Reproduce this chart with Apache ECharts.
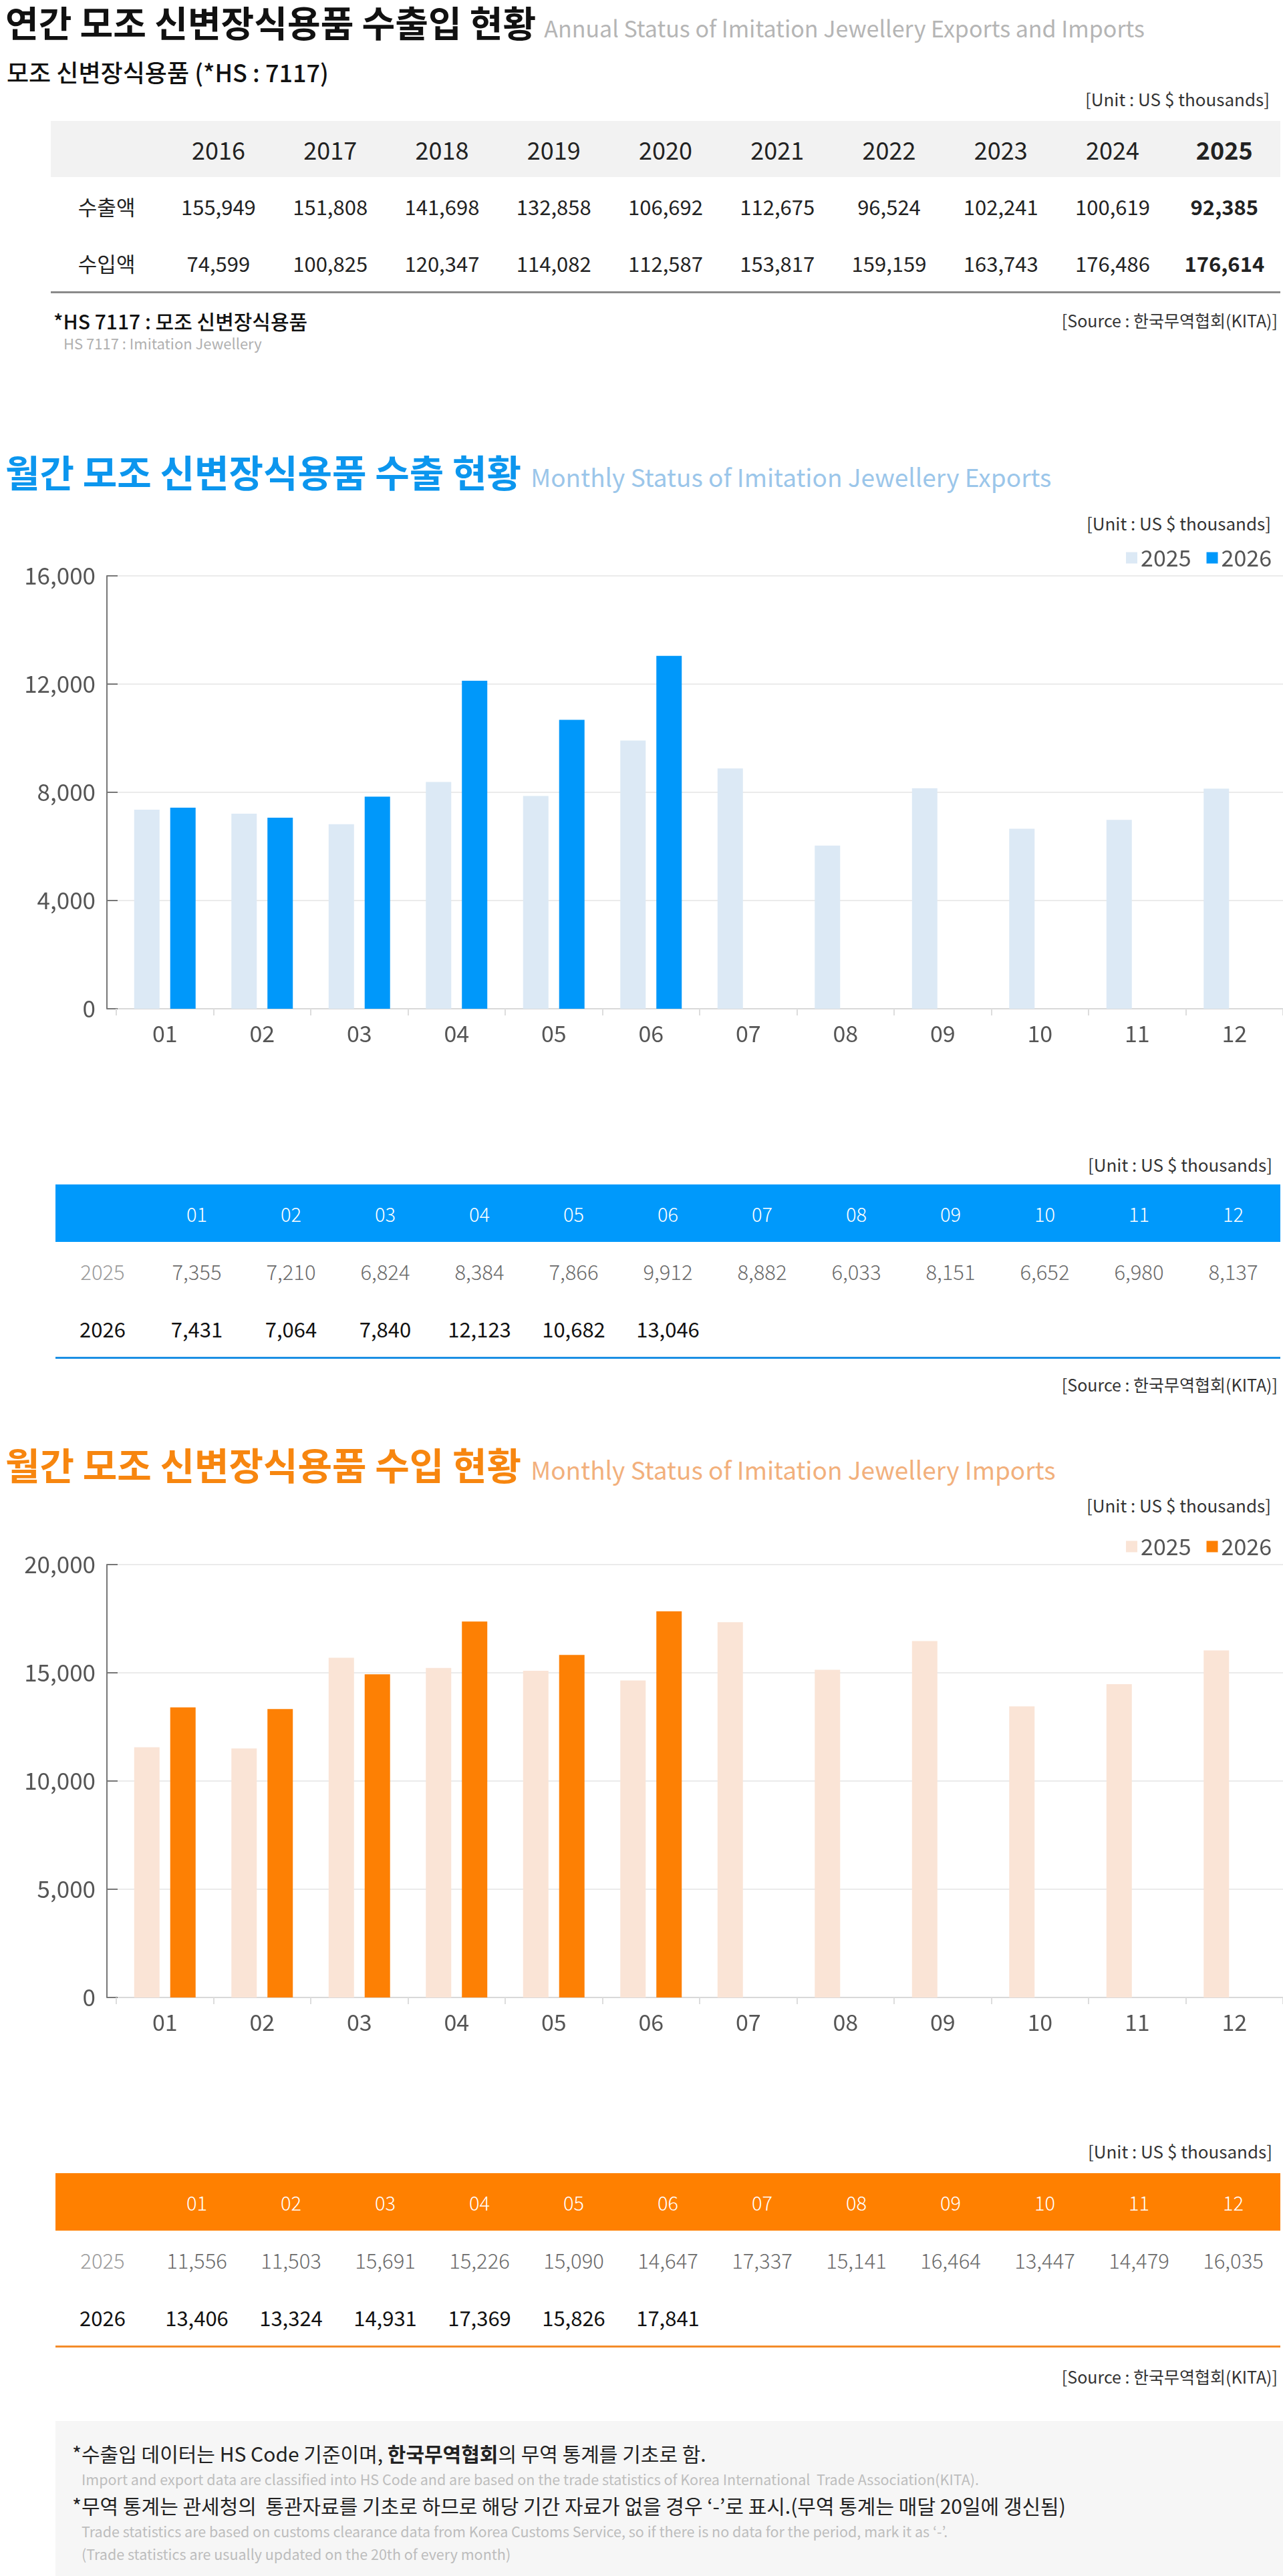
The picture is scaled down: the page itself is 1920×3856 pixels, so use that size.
<!DOCTYPE html>
<html><head><meta charset="utf-8">
<script src="https://cdn.jsdelivr.net/npm/echarts@6/dist/echarts.min.js"></script>
<style>
html,body{margin:0;padding:0;background:#fff;}
body{width:1920px;height:3856px;position:relative;overflow:hidden;font-family:"Noto Sans CJK KR","Noto Sans",sans-serif;}
.t{position:absolute;white-space:nowrap;line-height:1;}
.r{text-align:right;}
table{position:absolute;border-collapse:collapse;table-layout:fixed;}
td{text-align:center;vertical-align:middle;padding:0;white-space:nowrap;line-height:1;}
.chart{position:absolute;left:0;width:1920px;height:860px;}
</style></head>
<body>
<!-- Annual section -->
<div class="t" style="left:8px;top:6px;display:flex;align-items:baseline;">
  <span style="font-size:54px;font-weight:700;color:#111;">연간 모조 신변장식용품 수출입 현황</span>
  <span style="font-size:34px;color:#b5b5b5;margin-left:12px;">Annual Status of Imitation Jewellery Exports and Imports</span>
</div>
<div class="t" style="left:10px;top:89px;font-size:36px;font-weight:500;color:#111;">모조 신변장식용품 (*HS : 7117)</div>
<div class="t r" style="right:20px;top:135px;font-size:26px;color:#333;">[Unit : US $ thousands]</div>
<table id="annual" style="left:76px;top:181px;width:1840px;"></table>
<div class="t" style="left:80px;top:465px;font-size:30px;font-weight:500;color:#111;">*HS 7117 : 모조 신변장식용품</div>
<div class="t" style="left:95px;top:502px;font-size:22px;color:#b0b0b0;">HS 7117 : Imitation Jewellery</div>
<div class="t r" style="right:8px;top:467px;font-size:25px;color:#333;">[Source : 한국무역협회(KITA)]</div>

<!-- Export section -->
<div class="t" style="left:8px;top:677px;display:flex;align-items:baseline;">
  <span style="font-size:56px;font-weight:700;color:#0c96ee;">월간 모조 신변장식용품 수출 현황</span>
  <span style="font-size:37px;color:#9bc6ea;margin-left:14px;">Monthly Status of Imitation Jewellery Exports</span>
</div>
<div class="t r" style="right:18px;top:770px;font-size:26px;color:#333;">[Unit : US $ thousands]</div>
<div id="c1" class="chart" style="top:740px;"></div>
<div class="t r" style="right:16px;top:1730px;font-size:26px;color:#333;">[Unit : US $ thousands]</div>
<table id="exp" style="left:83px;top:1773px;width:1833px;"></table>
<div class="t r" style="right:8px;top:2060px;font-size:25px;color:#333;">[Source : 한국무역협회(KITA)]</div>

<!-- Import section -->
<div class="t" style="left:8px;top:2163px;display:flex;align-items:baseline;">
  <span style="font-size:56px;font-weight:700;color:#f7860f;">월간 모조 신변장식용품 수입 현황</span>
  <span style="font-size:37px;color:#f2b07c;margin-left:14px;">Monthly Status of Imitation Jewellery Imports</span>
</div>
<div class="t r" style="right:18px;top:2240px;font-size:26px;color:#333;">[Unit : US $ thousands]</div>
<div id="c2" class="chart" style="top:2220px;"></div>
<div class="t r" style="right:16px;top:3207px;font-size:26px;color:#333;">[Unit : US $ thousands]</div>
<table id="imp" style="left:83px;top:3253px;width:1833px;"></table>
<div class="t r" style="right:8px;top:3545px;font-size:25px;color:#333;">[Source : 한국무역협회(KITA)]</div>

<!-- Notes -->
<div style="position:absolute;left:83px;top:3624px;width:1837px;height:232px;background:#f6f6f6;"></div>
<div class="t" style="left:108px;top:3657px;font-size:30px;color:#222;">*수출입 데이터는 HS Code 기준이며, <b>한국무역협회</b>의 무역 통계를 기초로 함.</div>
<div class="t" style="left:122px;top:3700px;font-size:21.5px;color:#bdbdbd;">Import and export data are classified into HS Code and are based on the trade statistics of Korea International&nbsp; Trade Association(KITA).</div>
<div class="t" style="left:108px;top:3735px;font-size:30px;color:#222;">*무역 통계는 관세청의&nbsp; 통관자료를 기초로 하므로 해당 기간 자료가 없을 경우 ‘-’로 표시.(무역 통계는 매달 20일에 갱신됨)</div>
<div class="t" style="left:122px;top:3778px;font-size:21.5px;color:#bdbdbd;">Trade statistics are based on customs clearance data from Korea Customs Service, so if there is no data for the period, mark it as ‘-’.</div>
<div class="t" style="left:122px;top:3812px;font-size:21.5px;color:#bdbdbd;">(Trade statistics are usually updated on the 20th of every month)</div>

<script>
// ---- Data ----
const years = ['2016','2017','2018','2019','2020','2021','2022','2023','2024','2025'];
const annualExports = [155949,151808,141698,132858,106692,112675,96524,102241,100619,92385];
const annualImports = [74599,100825,120347,114082,112587,153817,159159,163743,176486,176614];

const months = ['01','02','03','04','05','06','07','08','09','10','11','12'];
const export2025 = [7355,7210,6824,8384,7866,9912,8882,6033,8151,6652,6980,8137];
const export2026 = [7431,7064,7840,12123,10682,13046];
const import2025 = [11556,11503,15691,15226,15090,14647,17337,15141,16464,13447,14479,16035];
const import2026 = [13406,13324,14931,17369,15826,17841];

const exportTicks = {min:0, max:16000, interval:4000};
const importTicks = {min:0, max:20000, interval:5000};

const fmt = v => v.toLocaleString('en-US');
const FONT = '"Noto Sans CJK KR","Noto Sans",sans-serif';

function cols(n, w){
  let s = '<colgroup>';
  for (let i=0;i<n;i++) s += '<col style="width:'+w.toFixed(2)+'px">';
  return s + '</colgroup>';
}

// ---- Annual table ----
(function(){
  const t = document.getElementById('annual');
  let h = cols(11, 1840/11);
  h += '<tr style="height:84px;background:#f2f2f2;"><td></td>' +
    years.map((y,i)=>'<td style="font-size:36px;color:#222;font-weight:'+(i===years.length-1?600:400)+'">'+y+'</td>').join('') + '</tr>';
  const row = (label, arr, hgt) => '<tr style="height:'+hgt+'px;"><td style="font-size:31px;color:#222;">'+label+'</td>' +
    arr.map((v,i)=>'<td style="font-size:31px;color:#222;font-weight:'+(i===arr.length-1?600:400)+'">'+fmt(v)+'</td>').join('') + '</tr>';
  h += row('수출액', annualExports, 87);
  h += row('수입액', annualImports, 85);
  t.innerHTML = h;
  t.style.borderBottom = '3px solid #8a8a8a';
})();

// ---- Monthly tables ----
function monthTable(id, head, a, b, bg, line){
  const t = document.getElementById(id);
  let h = cols(13, 1833/13);
  h += '<tr style="height:86px;background:'+bg+';"><td></td>' +
    head.map(m=>'<td style="font-size:29px;color:#fff;font-weight:300;">'+m+'</td>').join('') + '</tr>';
  h += '<tr style="height:87px;"><td style="font-size:31px;color:#9a9a9a;font-weight:300;">2025</td>' +
    head.map((m,i)=>'<td style="font-size:31px;color:#6a6a6a;font-weight:300;">'+(a[i]!=null?fmt(a[i]):'')+'</td>').join('') + '</tr>';
  h += '<tr style="height:86px;"><td style="font-size:31px;color:#111;">2026</td>' +
    head.map((m,i)=>'<td style="font-size:31px;color:#111;">'+(b[i]!=null?fmt(b[i]):'')+'</td>').join('') + '</tr>';
  t.innerHTML = h;
  t.style.borderBottom = '3px solid '+line;
}
monthTable('exp', months, export2025, export2026, '#0099fb', '#1b8fe4');
monthTable('imp', months, import2025, import2026, '#ff8000', '#f38b2a');

// ---- Charts ----
function makeOption(a, b, cLight, cDark, ticks){
  return {
    animation:false,
    textStyle:{fontFamily:FONT},
    grid:{left:174, right:0, top:122, bottom:90},
    legend:{
      data:['2025','2026'], right:12, top:73, icon:'rect',
      itemWidth:17, itemHeight:17, itemGap:23,
      textStyle:{fontSize:34, color:'#555', fontFamily:FONT}
    },
    xAxis:{
      type:'category', data:months,
      axisLine:{lineStyle:{color:'#d9d9d9', width:2}},
      axisTick:{show:true, length:10, lineStyle:{color:'#dddddd', width:2}},
      axisLabel:{fontSize:34, color:'#555', margin:20, fontFamily:FONT}
    },
    yAxis:{
      type:'value', min:ticks.min, max:ticks.max, interval:ticks.interval,
      offset:14,
      axisLine:{show:true, lineStyle:{color:'#777', width:2}},
      axisTick:{show:true, inside:true, length:16, lineStyle:{color:'#777', width:2}},
      axisLabel:{fontSize:35, color:'#555', margin:17, fontFamily:FONT, formatter:v=>fmt(v)},
      splitLine:{lineStyle:{color:'#e4e4e4', width:1.5}}
    },
    series:[
      {name:'2025', type:'bar', data:a, barWidth:38, barGap:'42%', itemStyle:{color:cLight}},
      {name:'2026', type:'bar', data:b, barWidth:38, itemStyle:{color:cDark}}
    ]
  };
}
echarts.init(document.getElementById('c1')).setOption(makeOption(export2025, export2026, '#dce9f5', '#0098fa', exportTicks));
echarts.init(document.getElementById('c2')).setOption(makeOption(import2025, import2026, '#fae4d6', '#fd8004', importTicks));
</script>
</body></html>
